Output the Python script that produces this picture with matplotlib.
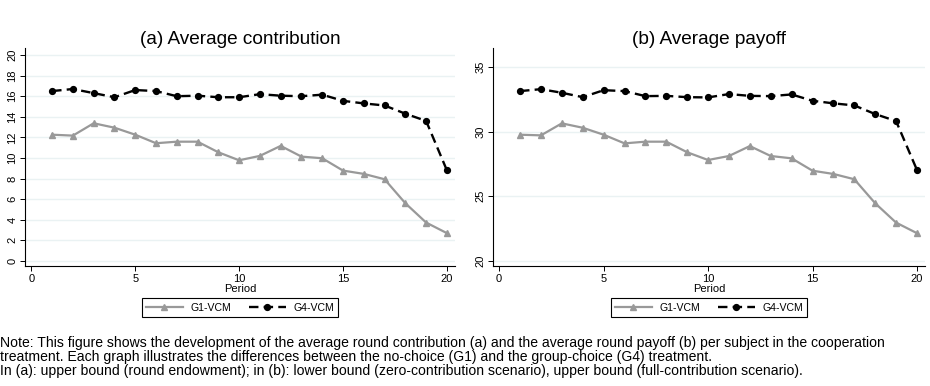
import numpy as np
import matplotlib.pyplot as plt

plt.rcParams['font.family'] = ['Liberation Sans', 'DejaVu Sans']

periods = list(range(1, 21))

# average contribution per round
contrib_g1 = [12.26, 12.17, 13.37, 12.94, 12.26, 11.43, 11.58, 11.58, 10.55, 9.77,
              10.2, 11.17, 10.13, 9.97, 8.77, 8.45, 7.93, 5.6, 3.72, 2.69]
contrib_g4 = [16.5, 16.7, 16.3, 15.9, 16.6, 16.5, 16.0, 16.05, 15.9, 15.9,
              16.2, 16.05, 16.0, 16.15, 15.55, 15.3, 15.1, 14.3, 13.6, 8.8]

# average payoff per round
payoff_g1 = [29.77, 29.72, 30.65, 30.31, 29.77, 29.1, 29.23, 29.23, 28.41, 27.81,
             28.12, 28.89, 28.12, 27.94, 26.98, 26.73, 26.32, 24.46, 22.96, 22.14]
payoff_g4 = [33.15, 33.3, 33.02, 32.68, 33.22, 33.15, 32.76, 32.78, 32.68, 32.66,
             32.92, 32.78, 32.76, 32.89, 32.4, 32.2, 32.04, 31.37, 30.83, 27.04]

titles = ['(a) Average contribution', '(b) Average payoff']
series_names = ['G1-VCM', 'G4-VCM']
note = ("Note: This figure shows the development of the average round contribution (a) and the average round payoff (b) per subject in the cooperation\n"
        "treatment. Each graph illustrates the differences between the no-choice (G1) and the group-choice (G4) treatment.\n"
        "In (a): upper bound (round endowment); in (b): lower bound (zero-contribution scenario), upper bound (full-contribution scenario).")

fig = plt.figure(figsize=(9.3, 3.86), dpi=100)
ax1 = fig.add_axes([0.027, 0.311, 0.462, 0.565])
ax2 = fig.add_axes([0.530, 0.311, 0.4645, 0.565])

panels = [(ax1, contrib_g1, contrib_g4, (-0.5, 20.7), np.arange(0, 21, 2)),
          (ax2, payoff_g1, payoff_g4, (19.6, 36.5), np.arange(20, 36, 5))]

for i, (ax, g1, g4, ylim, yt) in enumerate(panels):
    for y in yt:
        ax.axhline(y, color='#eaf2f3', lw=1.0, zorder=0)
    l1, = ax.plot(periods, g1, color='#999999', lw=1.6, marker='^', ms=4,
                  label=series_names[0])
    l2, = ax.plot(periods, g4, color='black', lw=1.7, ls=(0, (4, 2.2)),
                  marker='o', ms=4.2, label=series_names[1])
    ax.set_xlim(-0.3, 20.38)
    ax.set_ylim(*ylim)
    ax.set_xticks([0, 5, 10, 15, 20])
    ax.set_yticks(yt)
    ax.tick_params(labelsize=8, length=3.5, width=0.7, pad=2)
    for lab in ax.get_yticklabels():
        lab.set_rotation(90)
        lab.set_va('center')
    ax.spines['top'].set_visible(False)
    ax.spines['right'].set_visible(False)
    for s in ['left', 'bottom']:
        ax.spines[s].set_linewidth(0.8)
    ax.set_xlabel('Period', fontsize=8, labelpad=0)
    ax.set_title(titles[i], fontsize=13.7, pad=3)
    pos = ax.get_position()
    fig.legend(handles=[l1, l2], loc='center',
               bbox_to_anchor=(pos.x0 + pos.width / 2, 0.203), ncol=2,
               fontsize=7.6, frameon=True, fancybox=False, edgecolor='black',
               handlelength=3.5, columnspacing=1.7, borderpad=0.4,
               handletextpad=0.7, framealpha=1).get_frame().set_linewidth(0.8)

fig.text(0.0, 0.075, note, fontsize=10.1, va='center', ha='left',
         family=['Liberation Sans Narrow', 'Liberation Sans'], linespacing=0.96)

fig.savefig('out.png', dpi=100)
